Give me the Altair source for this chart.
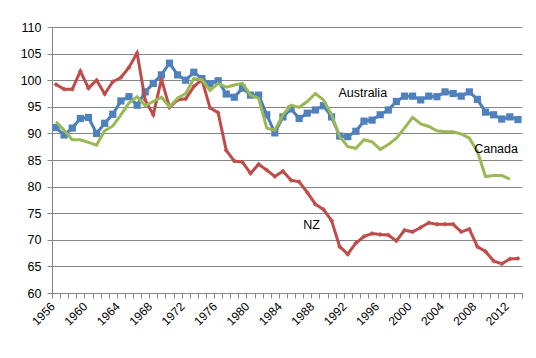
import altair as alt
import pandas as pd

years_all = list(range(1956, 2014))

australia = [
    91.1, 89.7, 91.0, 92.8, 93.0, 90.0, 91.9, 93.6, 96.1, 96.9,
    95.3, 97.8, 99.4, 101.0, 103.2, 101.0, 100.0, 101.5, 100.3, 99.3,
    99.9, 97.4, 96.8, 98.5, 97.2, 97.2, 93.5, 90.1, 93.1, 94.6,
    92.8, 93.8, 94.4, 95.2, 93.1, 89.5, 89.4, 90.4, 92.3, 92.5,
    93.5, 94.4, 96.0, 97.0, 97.0, 96.3, 97.0, 96.9, 97.8, 97.5,
    97.0, 97.8, 96.4, 94.0, 93.5, 92.7, 93.1, 92.6,
]

nz = [
    99.2, 98.3, 98.3, 101.7, 98.5, 100.0, 97.4, 99.7, 100.5, 102.4,
    105.1, 96.3, 93.5, 100.2, 94.9, 96.3, 96.5, 98.8, 100.1, 94.8,
    93.9, 86.8, 84.8, 84.6, 82.5, 84.2, 83.1, 81.9, 82.9, 81.2,
    80.9, 78.9, 76.7, 75.7, 73.6, 68.7, 67.3, 69.4, 70.6, 71.2,
    71.0, 70.9, 69.8, 71.8, 71.5, 72.3, 73.2, 72.9, 72.9, 72.9,
    71.5, 72.0, 68.7, 67.8, 66.0, 65.5, 66.4, 66.5,
]

canada = [
    92.2, 90.6, 88.8, 88.8, 88.3, 87.8, 90.5, 91.4, 93.5, 95.7,
    96.9, 95.2, 96.0, 96.8, 95.0, 96.6, 97.5, 100.3, 100.1, 98.1,
    99.4, 98.7, 99.1, 99.4, 97.2, 96.6, 91.0, 90.6, 93.5, 95.3,
    94.9, 96.0, 97.5, 96.3, 93.5, 89.4, 87.5, 87.2, 88.8, 88.4,
    87.0, 87.9, 89.1, 91.0, 93.0, 91.8, 91.3, 90.5, 90.3, 90.3,
    89.9, 89.1, 86.6, 81.9, 82.1, 82.1, 81.4,
]

label_names = ["Australia", "Canada", "NZ"]
label_years = [1990.85, 2007.6, 1986.5]
label_values = [97.6, 87.1, 72.8]

y_ticks = [60, 65, 70, 75, 80, 85, 90, 95, 100, 105, 110]

df_au = pd.DataFrame({"year": years_all, "value": australia})
df_nz = pd.DataFrame({"year": years_all, "value": nz})
df_ca = pd.DataFrame({"year": years_all[:len(canada)], "value": canada})
df_lab = pd.DataFrame({"name": label_names, "year": label_years, "value": label_values})

GRID = "#868686"
FONT = "Liberation Sans"

x_scale = alt.Scale(domain=[years_all[0] - 0.5, years_all[-1] + 0.5], nice=False, zero=False)
y_scale = alt.Scale(domain=[60, 110], nice=False, zero=False)

tick_vals = [y - 0.5 for y in years_all] + [years_all[-1] + 0.5]

x_axis = alt.Axis(
    values=tick_vals,
    labelExpr="((datum.value + 0.5 - 1956) % 4 == 0) ? toString(datum.value + 0.5) : ''",
    labelOffset=0.5,
    labelAngle=315,
    labelAlign="right",
    labelBaseline="middle",
    labelPadding=6,
    tickSize=5,
    tickColor=GRID,
    domainColor=GRID,
    grid=False,
    title=None,
    labelOverlap=False,
    labelFlush=False,
    labelBound=False,
    labelFont=FONT,
    labelFontSize=12,
    labelColor="black",
)

y_axis = alt.Axis(
    values=y_ticks,
    grid=True,
    gridColor=GRID,
    tickSize=5,
    tickColor=GRID,
    domainColor=GRID,
    labelPadding=6,
    title=None,
    labelFont=FONT,
    labelFontSize=12.5,
    labelColor="black",
    labelOverlap=False,
)

X = alt.X("year:Q", scale=x_scale, axis=x_axis)
Y = alt.Y("value:Q", scale=y_scale, axis=y_axis)

au_line = alt.Chart(df_au).mark_line(color="#4A7EBB", strokeWidth=3).encode(x=X, y=Y)
au_pts = alt.Chart(df_au).mark_point(shape="square", filled=True, size=52, color="#4F81BD", opacity=1).encode(x=X, y=Y)
nz_line = alt.Chart(df_nz).mark_line(color="#BE4B48", strokeWidth=3).encode(x=X, y=Y)
nz_pts = alt.Chart(df_nz).mark_point(shape="diamond", filled=True, size=25, color="#C0504D", opacity=1).encode(x=X, y=Y)
ca_line = alt.Chart(df_ca).mark_line(color="#98B954", strokeWidth=3).encode(x=X, y=Y)

labels = alt.Chart(df_lab).mark_text(
    align="left", baseline="middle", font=FONT, fontSize=12.5, color="black"
).encode(x=X, y=Y, text="name:N")

chart = alt.layer(au_line, au_pts, nz_line, nz_pts, ca_line, labels).properties(
    width=470,
    height=266,
    autosize=alt.AutoSizeParams(type="none"),
    padding={"left": 44, "top": 19, "right": 6, "bottom": 57},
).configure_view(stroke=None)

chart.save("out.html", embed_options={"renderer": "svg", "actions": False})
